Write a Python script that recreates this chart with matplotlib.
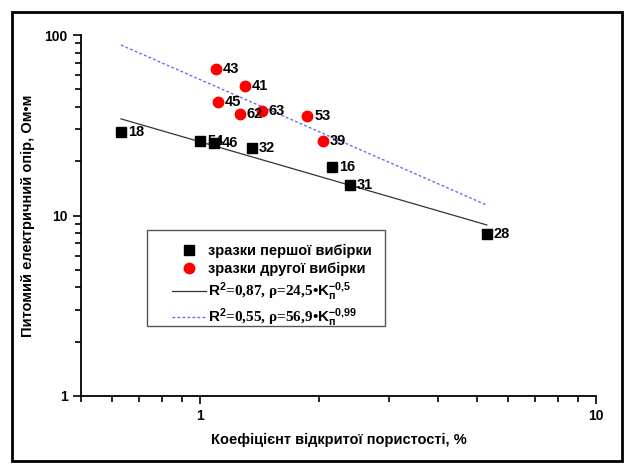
import matplotlib
matplotlib.use("Agg")
import matplotlib.pyplot as plt
import numpy as np
from matplotlib.patches import Rectangle

plt.rcParams['font.family'] = ['Liberation Sans', 'DejaVu Sans']
plt.rcParams['font.weight'] = 'bold'
plt.rcParams['mathtext.fontset'] = 'custom'
plt.rcParams['mathtext.rm'] = 'Liberation Sans:bold'
plt.rcParams['mathtext.it'] = 'Liberation Sans:bold'
plt.rcParams['mathtext.bf'] = 'Liberation Sans:bold'

# first sample set (squares)
names1 = ['18', '54', '46', '32', '16', '31', '28']
kp1 = [0.631, 1.0, 1.087, 1.349, 2.154, 2.39, 5.30]
rho1 = [29.1, 25.9, 25.3, 23.7, 18.5, 14.7, 7.87]

# second sample set (circles)
names2 = ['43', '41', '45', '62', '63', '53', '39']
kp2 = [1.098, 1.297, 1.108, 1.26, 1.432, 1.866, 2.044]
rho2 = [64.8, 52.4, 42.4, 36.4, 37.9, 35.7, 25.9]

# power-law trend lines as drawn: rho = a * kp**b
fit1 = (25.6, -0.636)
fit2 = (56.6, -0.96)

fig = plt.figure(figsize=(6.26, 4.65), dpi=100)
ax = fig.add_axes([0.1294, 0.1484, 0.8226, 0.7763])

xs = np.linspace(min(kp1 + kp2), max(kp1 + kp2), 50)
ax.plot(xs, fit1[0] * xs ** fit1[1], color='#333333', lw=0.9,
        label=r'$\mathbf{R}^{2}$=0,87, ρ=24,5•$\mathbf{K}_{\mathrm{п}}^{-0{,}5}$')
ax.plot(xs, fit2[0] * xs ** fit2[1], color='#6a6af5', lw=1.0, ls=(0, (2, 1.6)),
        label=r'$\mathbf{R}^{2}$=0,55, ρ=56,9•$\mathbf{K}_{\mathrm{п}}^{-0{,}99}$')
ax.plot(kp1, rho1, 's', color='black', ms=6.5, ls='none', label='зразки першої вибірки')
ax.plot(kp2, rho2, 'o', color='#ff0000', ms=7.5, ls='none', label='зразки другої вибірки')

for n, x, y in zip(names1 + names2, kp1 + kp2, rho1 + rho2):
    ax.annotate(n, (x, y), xytext=(5, 0), textcoords='offset points',
                ha='left', va='center', fontsize=10.5, fontweight='bold')

ax.set_xscale('log')
ax.set_yscale('log')
ax.set_xlim(0.5, 10)
ax.set_ylim(1, 100)
ax.set_xticks([1, 10])
ax.set_xticklabels(['1', '10'])
ax.set_yticks([1, 10, 100])
ax.set_yticklabels(['1', '10', '100'])
ax.xaxis.set_minor_locator(matplotlib.ticker.LogLocator(subs=np.arange(2, 10)))
ax.xaxis.set_minor_formatter(matplotlib.ticker.NullFormatter())
ax.yaxis.set_minor_locator(matplotlib.ticker.LogLocator(subs=np.arange(2, 10)))
ax.yaxis.set_minor_formatter(matplotlib.ticker.NullFormatter())
ax.tick_params(which='major', length=6, width=1.2, labelsize=10)
ax.tick_params(which='minor', length=4, width=1.2)
ax.spines['top'].set_visible(False)
ax.spines['right'].set_visible(False)
ax.spines['left'].set_linewidth(1.3)
ax.spines['bottom'].set_linewidth(1.3)

ax.set_xlabel('Коефіцієнт відкритої пористості, %', fontsize=10.5, fontweight='bold', labelpad=7)
ax.set_ylabel('Питомий електричний опір, Ом•м', fontsize=10.5, fontweight='bold', labelpad=7)

# legend box drawn separately so the padding matches the original
ax.add_patch(Rectangle((0.128, 0.194), 0.462, 0.266, transform=ax.transAxes,
                       facecolor='white', edgecolor='#555555', lw=1.0, zorder=4))
h, l = ax.get_legend_handles_labels()
order = [2, 3, 0, 1]
leg = ax.legend([h[i] for i in order], [l[i] for i in order], loc='upper left',
                bbox_to_anchor=(0.1767, 0.422), borderaxespad=0, borderpad=0,
                frameon=False, fontsize=10.5, handlelength=2.3, handletextpad=0.2,
                labelspacing=0.28)
leg.set_zorder(5)
for t in leg.get_texts()[2:]:
    t.set_fontfamily('Liberation Serif')
    t.set_fontweight('bold')
    t.set_fontsize(11)

fig.patches.append(Rectangle((12 / 626, 4 / 465), 610 / 626, 449 / 465,
                             transform=fig.transFigure, fill=False,
                             edgecolor='black', lw=2))

fig.savefig('out.png', dpi=100)
